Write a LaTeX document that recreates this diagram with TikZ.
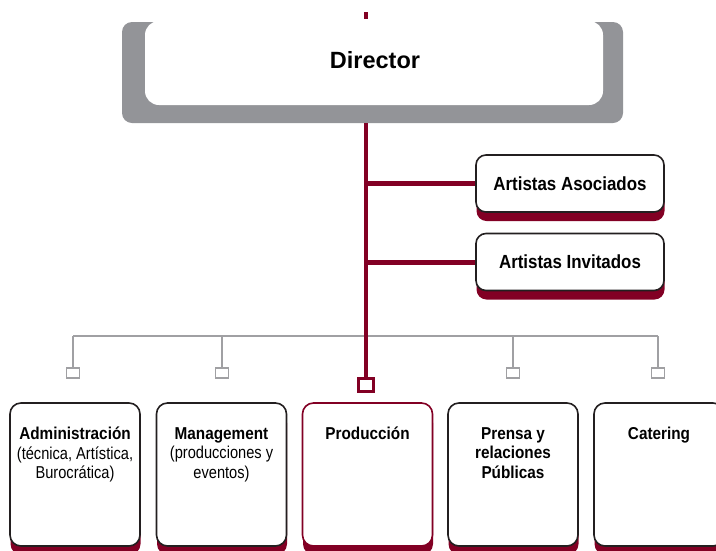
\documentclass[tikz,border=0pt]{standalone}
\usepackage{fontspec}
\setmainfont{Liberation Sans}
\newfontfamily\condbold[FakeStretch=0.89]{Liberation Sans Bold}
\newfontfamily\condreg[FakeStretch=0.85]{Liberation Sans}
\usetikzlibrary{shadows}
\definecolor{wine}{RGB}{130,0,36}
\definecolor{lgray}{RGB}{160,160,163}
\definecolor{dgray}{RGB}{147,148,152}
\definecolor{boxline}{RGB}{35,31,32}
\tikzset{
  redshadow/.style={drop shadow={shadow xshift=0.5pt, shadow yshift=-9pt, fill=wine, opacity=1}},
  sidebox/.style={draw=boxline, line width=1.6pt, fill=white, rounded corners=10pt, minimum width=188pt, minimum height=57pt, inner sep=0pt, redshadow, font=\fontsize{19}{21}\condbold},
  lowbox/.style={draw=boxline, line width=1.6pt, fill=white, rounded corners=11pt, minimum width=130pt, minimum height=143pt, inner sep=0pt, redshadow},
  lowtext/.style={anchor=north, align=center, inner sep=0pt, font=\fontsize{17.2}{19.5}\selectfont},
  redline/.style={draw=wine, line width=4pt},
  redbranch/.style={draw=wine, line width=5pt},
  grayline/.style={draw=lgray, line width=2pt},
  graysq/.style={draw=lgray, line width=1.8pt, fill=white, minimum width=13pt, minimum height=10pt, inner sep=0pt},
}
\begin{document}
\begin{tikzpicture}[x=1pt,y=-1pt]
\useasboundingbox (0,0) rectangle (716,550);
% Director
\node[fill=dgray, rounded corners=10pt, minimum width=501pt, minimum height=101pt, inner sep=0pt] (dirback) at (372.5,72.5) {};
\node[fill=white, rounded corners=14pt, minimum width=458pt, minimum height=84pt, inner sep=0pt] (dir) at (374,63) {};
\node[font=\fontsize{23.5}{26}\selectfont\bfseries, inner sep=0pt] (dirtext) at (375,60) {Director};
\coordinate (ticktop) at (366,12);
\coordinate (tickbot) at (366,19);
\draw[redline] (ticktop) -- (tickbot);
% side boxes
\node[sidebox] (aa) at (570,183.5) {Artistas Asociados};
\node[sidebox] (ai) at (570,262) {Artistas Invitados};
% gray tree
\coordinate (gl) at (73,336);
\coordinate (gr) at (658,336);
\draw[grayline] (gl) -- (gr);
\node[graysq] (sq1) at (73,373) {};
\node[graysq] (sq2) at (222,373) {};
\node[graysq] (sq4) at (513,373) {};
\node[graysq] (sq5) at (658,373) {};
\draw[grayline] (gl) -- (sq1.north);
\draw[grayline] (sq2.north |- gl) -- (sq2.north);
\draw[grayline] (sq4.north |- gl) -- (sq4.north);
\draw[grayline] (gr) -- (sq5.north);
% red spine
\node[draw=wine, line width=3pt, fill=white, minimum width=15pt, minimum height=13pt, inner sep=0pt] (psq) at (366,385) {};
\draw[redline] (dirback.south -| psq.north) -- (psq.north);
\draw[redbranch] (aa.west -| psq.north) -- (aa.west);
\draw[redbranch] (ai.west -| psq.north) -- (ai.west);
% lower boxes
\node[lowbox] (adm) at (75,474.5) {};
\node[lowbox] (man) at (221.5,474.5) {};
\node[lowbox, draw=wine] (prod) at (367.5,474.5) {};
\node[lowbox] (pren) at (513,474.5) {};
\node[lowbox] (cat) at (659,474.5) {};
\node[lowtext] (admt) at (75,427) {{\condbold Administración}\\{\condreg (técnica, Artística,}\\{\condreg Burocrática)}};
\node[lowtext] (mant) at (221.5,427) {{\condbold Management}\\{\condreg (producciones y}\\{\condreg eventos)}};
\node[lowtext] (prodt) at (367.5,427) {\condbold Producción};
\node[lowtext] (prent) at (513,427) {{\condbold Prensa y}\\{\condbold relaciones}\\{\condbold Públicas}};
\node[lowtext] (catt) at (659,427) {\condbold Catering};
\end{tikzpicture}
\end{document}
